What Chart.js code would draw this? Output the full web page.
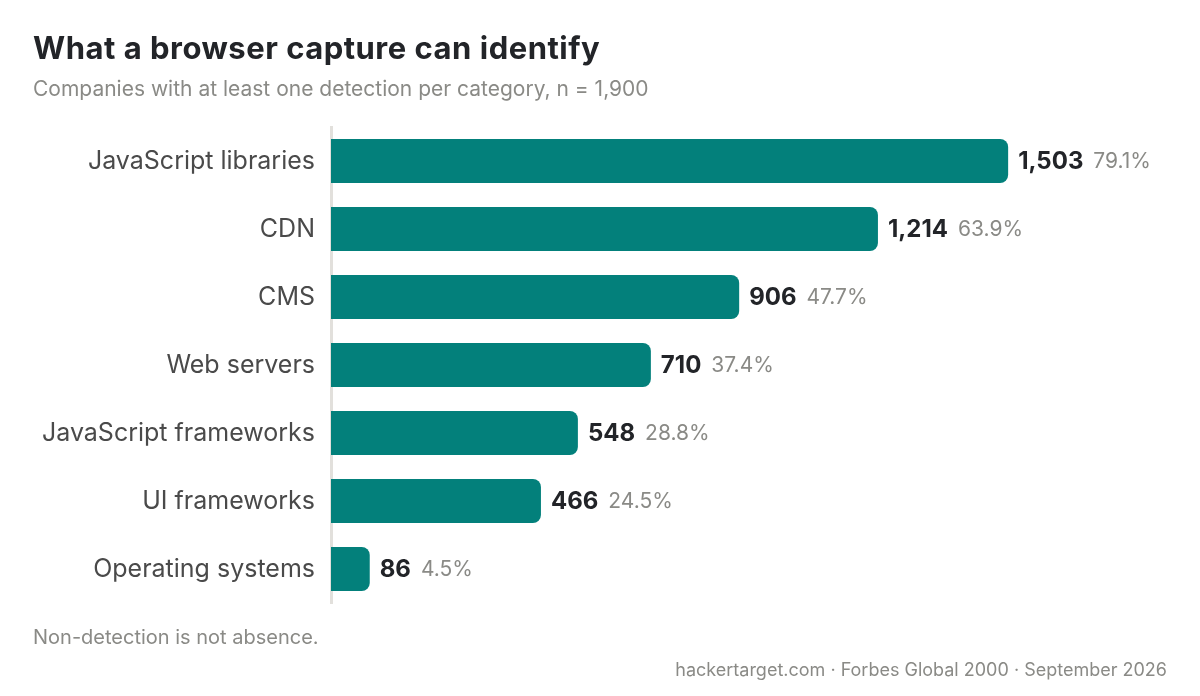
<!DOCTYPE html>
<html>
<head>
<meta charset="utf-8">
<script src="https://cdn.jsdelivr.net/npm/chart.js@4/dist/chart.umd.min.js"></script>
<style>
  html, body { margin: 0; padding: 0; background: #ffffff; }
  #wrap { width: 1200px; height: 696px; position: relative; }
</style>
</head>
<body>
<div id="wrap"><canvas id="bars"></canvas></div>
<script>
const categories = [
    'JavaScript libraries',
    'CDN',
    'CMS',
    'Web servers',
    'JavaScript frameworks',
    'UI frameworks',
    'Operating systems',
];
const companies = [1503, 1214, 906, 710, 548, 466, 86];
const shares = [79.1, 63.9, 47.7, 37.4, 28.8, 24.5, 4.5];
const sampleSize = 1900;

const FONT = 'Inter, "Noto Sans", sans-serif';
const TEAL = '#03807b';

// title, subtitle, footers and the value labels next to each bar
const textLayer = {
    id: 'textLayer',
    afterDatasetsDraw(chart) {
        const ctx = chart.ctx;
        ctx.save();
        ctx.textBaseline = 'alphabetic';
        ctx.textAlign = 'left';

        ctx.fillStyle = '#222428';
        ctx.font = 'bold 31px ' + FONT;
        ctx.letterSpacing = '0.5px';
        ctx.fillText('What a browser capture can identify', 33, 59);
        ctx.letterSpacing = '0px';

        ctx.fillStyle = '#8a8a86';
        ctx.font = '21px ' + FONT;
        ctx.fillText('Companies with at least one detection per category, n = 1,900', 33, 96);

        ctx.font = '20px ' + FONT;
        ctx.fillText('Non-detection is not absence.', 33, 644);
        ctx.font = '18px ' + FONT;
        ctx.textAlign = 'right';
        ctx.fillText('hackertarget.com \u00b7 Forbes Global 2000 \u00b7 September 2026', 1167, 676);

        // value + share labels
        ctx.textAlign = 'left';
        ctx.textBaseline = 'middle';
        const meta = chart.getDatasetMeta(0);
        meta.data.forEach((bar, i) => {
            const v = companies[i].toLocaleString('en-US');
            let x = bar.x + 10;
            ctx.font = 'bold 24px ' + FONT;
            ctx.fillStyle = '#222428';
            ctx.fillText(v, x, bar.y + 1);
            x += ctx.measureText(v).width + 10;
            ctx.font = '21px ' + FONT;
            ctx.fillStyle = '#8a8a86';
            ctx.fillText(shares[i].toFixed(1) + '%', x, bar.y + 1);
        });
        ctx.restore();
    }
};

const data_bars = {
    labels: categories,
    datasets: [{
        label: 'Companies',
        data: companies,
        backgroundColor: TEAL,
        borderWidth: 0,
        borderRadius: 8,
        borderSkipped: 'start',
        barPercentage: 0.65,
        categoryPercentage: 1.0,
    }]
};

const config_bars = {
    type: 'bar',
    data: data_bars,
    options: {
        indexAxis: 'y',
        responsive: true,
        maintainAspectRatio: false,
        animation: false,
        layout: {
            padding: { top: 127, bottom: 93, left: 0, right: 13 },
        },
        scales: {
            x: {
                display: false,
                min: 0,
                max: sampleSize,
            },
            y: {
                afterFit(scale) { scale.width = 331; },
                grid: { display: false, drawTicks: false },
                border: { display: true, color: '#e2e0dc', width: 3 },
                ticks: {
                    padding: 16,
                    color: '#4a4a4a',
                    font: { family: FONT, size: 25 },
                },
            },
        },
        plugins: {
            legend: { display: false },
            title: { display: false },
            tooltip: { enabled: false },
        },
    },
    plugins: [textLayer],
};

const myBars = new Chart(document.getElementById('bars'), config_bars);
</script>
</body>
</html>
